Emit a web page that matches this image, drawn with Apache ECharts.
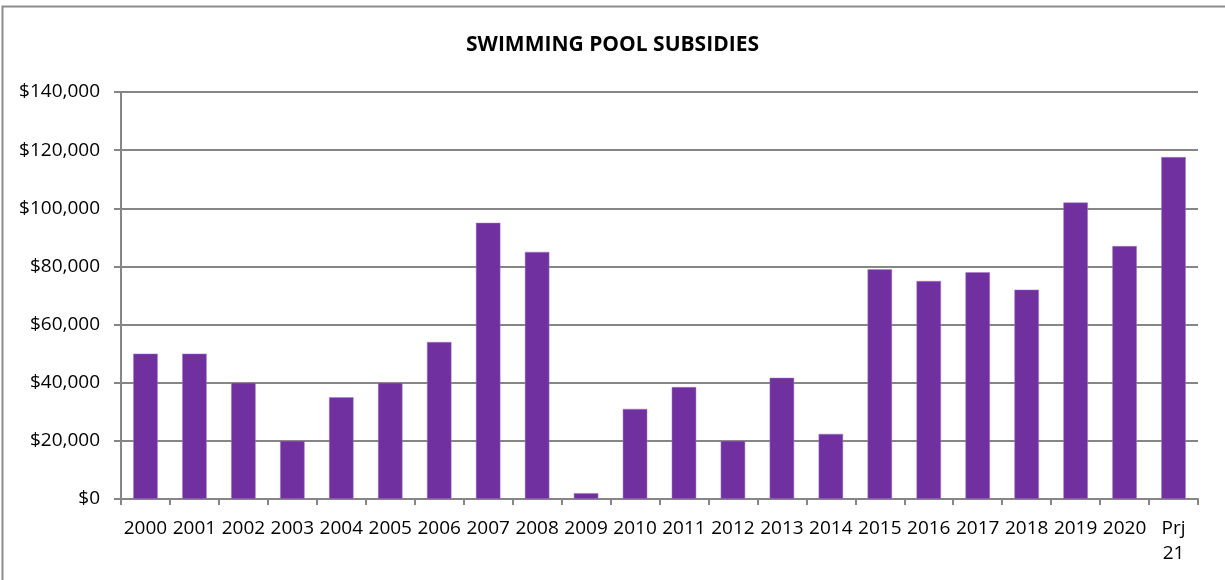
<!DOCTYPE html>
<html>
<head>
<meta charset="utf-8">
<script src="https://cdn.jsdelivr.net/npm/echarts@6/dist/echarts.min.js"></script>
<style>
html,body{margin:0;padding:0;background:#fff;}
#chart{width:1225px;height:580px;}
</style>
</head>
<body>
<div id="chart"></div>
<script>
const categories = ['2000','2001','2002','2003','2004','2005','2006','2007','2008','2009','2010','2011','2012','2013','2014','2015','2016','2017','2018','2019','2020','Prj\n21'];
const subsidies = [50000,50000,40000,20000,35000,40000,54000,95000,85000,2000,31000,38500,20000,41700,22400,79000,75000,78000,72000,102000,87000,117600];
const yTicks = {min:0, max:140000, interval:20000};
const titleText = 'SWIMMING POOL SUBSIDIES';

const chart = echarts.init(document.getElementById('chart'), null, {renderer:'canvas'});
const axisColor = '#868686';
chart.setOption({
  animation:false,
  backgroundColor:'#fff',
  title:{
    text:titleText, left:'center', top:30,
    textStyle:{fontFamily:'Open Sans', fontWeight:'bold', fontSize:21, color:'#000'}
  },
  graphic:[{
    type:'rect', shape:{x:2.5, y:6.5, width:1300, height:700},
    style:{fill:'none', stroke:'#8c8c8c', lineWidth:2}, silent:true
  }],
  grid:{left:121, right:27, top:92, bottom:81, containLabel:false},
  xAxis:{
    type:'category', data:categories,
    axisLine:{show:true, lineStyle:{color:axisColor, width:2}},
    axisTick:{show:true, alignWithLabel:false, length:6, lineStyle:{color:axisColor, width:2}},
    axisLabel:{fontFamily:'Open Sans', fontSize:19, color:'#000', margin:17, interval:0, lineHeight:25},
    splitLine:{show:false}
  },
  yAxis:{
    type:'value', min:yTicks.min, max:yTicks.max, interval:yTicks.interval,
    axisLine:{show:true, lineStyle:{color:axisColor, width:2}},
    axisTick:{show:true, length:7, lineStyle:{color:axisColor, width:2}},
    axisLabel:{fontFamily:'Open Sans', fontSize:19, color:'#000', margin:21,
      formatter:v=>'$'+v.toLocaleString('en-US')},
    splitLine:{show:true, lineStyle:{color:axisColor, width:2}}
  },
  series:[{
    type:'bar', data:subsidies, barCategoryGap:'50%',
    itemStyle:{color:'#7030A0', borderColor:'#a27cc0', borderWidth:0.5}
  }]
});
</script>
</body>
</html>
